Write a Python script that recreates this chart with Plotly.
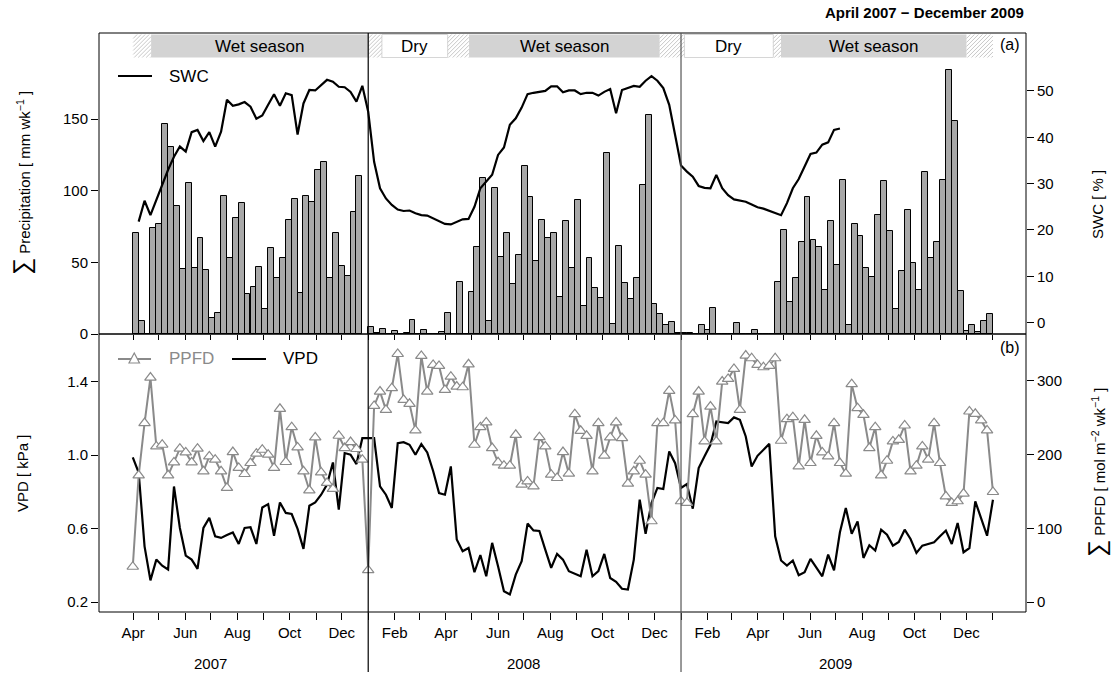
import pandas as pd
import plotly.graph_objects as go

# ---------------- data (weekly bins, 53 per calendar year) ----------------
N_BINS = 53

precip_2007_first_bin = 13
precip_2007 = [70.5, 9.1, 0, 74.0, 77.0, 146.4, 130.8, 89.4, 45.2, 105.7,
               46.1, 66.8, 44.5, 11.0, 14.7, 96.4, 52.8, 80.8, 91.3, 27.7,
               33.0, 47.0, 17.5, 60.3, 39.3, 52.8, 79.8, 94.5, 28.6, 96.2,
               92.0, 114.3, 120.1, 39.3, 70.5, 47.5, 40.3, 85.0, 110.3]
precip_2008 = [4.7, 1.0, 3.3, 0.3, 1.9, 0, 0.9, 9.8, 0, 2.8,
               0, 0, 1.2, 14.9, 0, 36.1, 0, 29.1, 61.0, 108.7,
               9.1, 101.7, 53.5, 70.3, 34.7, 54.9, 117.1, 95.4, 50.7, 79.8,
               67.0, 70.5, 26.1, 78.7, 46.1, 93.6, 19.6, 53.1, 32.1, 25.4,
               126.4, 6.8, 61.2, 35.6, 24.4, 38.9, 103.8, 153.2, 20.9, 14.0,
               6.5, 8.4, 0.7]
precip_2009 = [0.5, 0.7, 0, 6.5, 2.8, 17.9, 0, 0, 0.2, 7.4,
               0.2, 0, 2.8, 0, 0, 0, 36.3, 72.6, 22.1, 39.1,
               64.5, 95.7, 65.6, 61.0, 30.7, 78.9, 48.2, 107.5, 6.1, 76.8,
               68.7, 46.1, 39.8, 82.9, 106.9, 71.7, 17.2, 44.0, 86.6, 49.4,
               31.0, 113.1, 52.8, 64.0, 107.5, 184.6, 148.9, 29.8, 2.3, 6.1,
               1.2, 8.8, 13.7]

swc_2007_first_bin = 14
swc_2007 = [21.8, 26.3, 23.2, 26.5, 29.8, 33.0, 35.8, 38.0, 36.9, 41.1,
            41.6, 39.2, 41.1, 38.0, 41.2, 48.1, 46.8, 47.1, 47.6, 46.6,
            44.0, 44.7, 47.0, 49.3, 46.8, 49.5, 49.1, 40.6, 47.3, 50.2,
            50.1, 51.3, 52.4, 52.0, 50.9, 50.8, 49.8, 47.7, 51.1]
swc_2008 = [45.5, 34.7, 29.0, 26.8, 25.4, 24.4, 24.1, 24.2, 23.6, 23.2,
            23.1, 22.5, 21.8, 21.3, 21.2, 21.8, 22.3, 22.4, 25.0, 29.0,
            30.4, 31.9, 36.2, 37.8, 42.7, 44.1, 46.4, 49.3, 49.6, 49.8,
            50.0, 51.0, 51.0, 49.7, 50.1, 50.1, 49.3, 49.6, 49.6, 49.0,
            49.8, 50.4, 45.2, 50.2, 50.6, 51.1, 50.9, 52.2, 53.2, 52.2,
            50.6, 47.0, 40.5]
swc_2009 = [33.9, 32.6, 31.5, 29.5, 29.1, 29.0, 31.9, 29.0, 27.5, 26.6,
            26.3, 26.1, 25.5, 24.9, 24.6, 24.1, 23.6, 23.2, 25.8, 29.0,
            31.0, 33.7, 36.4, 36.7, 38.4, 38.9, 41.6, 41.9]

met_2007_first_bin = 13
vpd_2007 = [0.987, 0.905, 0.503, 0.318, 0.431, 0.398, 0.377, 0.829, 0.603, 0.453,
            0.431, 0.380, 0.603, 0.658, 0.558, 0.549, 0.565, 0.579, 0.516, 0.603,
            0.607, 0.516, 0.715, 0.733, 0.561, 0.742, 0.685, 0.679, 0.598, 0.489,
            0.724, 0.742, 0.784, 0.839, 0.960, 0.703, 1.011, 1.002, 0.951, 1.092]
vpd_2008 = [1.092, 1.092, 0.830, 0.784, 0.712, 1.065, 1.070, 1.056, 1.002, 1.060,
            1.014, 0.913, 0.793, 0.784, 0.938, 0.540, 0.476, 0.494, 0.362, 0.456,
            0.340, 0.522, 0.395, 0.259, 0.241, 0.349, 0.422, 0.627, 0.590, 0.587,
            0.485, 0.386, 0.462, 0.431, 0.368, 0.355, 0.340, 0.485, 0.340, 0.368,
            0.462, 0.331, 0.310, 0.272, 0.268, 0.431, 0.757, 0.571, 0.739, 0.821,
            0.815, 1.020, 0.956]
vpd_2009 = [0.821, 0.842, 0.708, 0.929, 0.993, 1.056, 1.183, 1.178, 1.174, 1.205,
            1.192, 1.101, 0.938, 0.996, 1.029, 1.061, 0.558, 0.426, 0.398, 0.426,
            0.346, 0.362, 0.435, 0.390, 0.340, 0.458, 0.373, 0.580, 0.712, 0.572,
            0.639, 0.440, 0.509, 0.480, 0.594, 0.567, 0.507, 0.527, 0.594, 0.543,
            0.467, 0.507, 0.515, 0.525, 0.558, 0.589, 0.516, 0.630, 0.471, 0.494,
            0.748, 0.654, 0.561, 0.757]

ppfd_2007 = [47.9, 171.9, 242.8, 304.5, 211.1, 213.4, 171.9, 189.4, 208.0, 203.0,
             189.4, 208.0, 177.3, 197.6, 193.1, 177.3, 154.8, 203.5, 181.9, 173.7,
             188.6, 201.2, 206.6, 199.9, 181.9, 262.1, 190.0, 237.3, 209.7, 177.3,
             151.6, 223.3, 175.9, 161.6, 153.4, 225.6, 208.9, 217.0, 207.6, 193.1]
ppfd_2008 = [43.3, 266.1, 285.5, 260.7, 290.1, 336.5, 274.3, 268.9, 232.8, 333.8,
             285.5, 321.6, 320.3, 287.8, 305.8, 292.3, 291.4, 322.5, 213.4, 237.3,
             243.6, 208.9, 189.5, 185.0, 185.0, 226.9, 159.2, 163.7, 157.0, 223.7,
             211.1, 172.8, 168.3, 203.4, 174.1, 254.9, 232.3, 225.5, 177.3, 242.7,
             198.5, 223.3, 243.6, 222.4, 160.6, 177.3, 191.7, 172.8, 109.6, 242.7,
             242.7, 286.4, 246.3]
ppfd_2009 = [136.7, 134.4, 254.9, 285.5, 217.9, 265.2, 217.9, 299.1, 302.7, 316.2,
             260.7, 334.3, 330.7, 321.6, 318.5, 320.3, 330.7, 218.8, 248.1, 250.8,
             184.0, 247.2, 188.6, 225.5, 203.0, 197.6, 242.7, 188.6, 174.1, 295.5,
             263.0, 254.0, 208.9, 237.3, 171.9, 191.7, 217.9, 220.1, 239.5, 177.3,
             185.0, 211.1, 193.1, 242.7, 188.6, 143.4, 134.4, 136.7, 147.1, 258.5,
             255.3, 246.3, 232.8, 149.3]

# seasons (top strip)
season_edges = ["2007-04-01", "2007-04-22", "2008-01-01", "2008-01-17", "2008-04-03",
                "2008-04-28", "2008-12-07", "2009-01-05", "2009-04-19", "2009-04-28",
                "2009-12-01", "2010-01-01"]
season_kinds = ["trans", "wet", "trans", "dry", "trans", "wet", "trans", "dry",
                "trans", "wet", "trans"]
season_text = {"wet": "Wet season", "dry": "Dry", "trans": ""}

year_labels = ["2007", "2008", "2009"]
month_abbr = {2: "Feb", 4: "Apr", 6: "Jun", 8: "Aug", 10: "Oct", 12: "Dec"}

# ---------------- helpers ----------------
def ndays(year):
    return 366 if year % 4 == 0 else 365

def bin_start(year, k):
    return pd.Timestamp(year=year, month=1, day=1) + pd.Timedelta(days=k * ndays(year) / N_BINS)

def series(first_bin_2007, v07, v08, v09):
    xs, ys = [], []
    for year, first, vals in [(2007, first_bin_2007, v07), (2008, 0, v08), (2009, 0, v09)]:
        for i, v in enumerate(vals):
            xs.append(bin_start(year, first + i))
            ys.append(v)
    return xs, ys

def fmt(ts):
    return ts.strftime("%Y-%m-%d %H:%M:%S")

# bars: centre of each weekly bin
bar_x, bar_y, bar_w = [], [], []
for year, first, vals in [(2007, precip_2007_first_bin, precip_2007), (2008, 0, precip_2008),
                          (2009, 0, precip_2009)]:
    w = ndays(year) / N_BINS
    for i, v in enumerate(vals):
        bar_x.append(fmt(bin_start(year, first + i) + pd.Timedelta(days=w / 2)))
        bar_y.append(v)
        bar_w.append(w * 86400000 * 0.999)

swc_x, swc_y = series(swc_2007_first_bin, swc_2007, swc_2008, swc_2009)
vpd_x, vpd_y = series(met_2007_first_bin, vpd_2007, vpd_2008, vpd_2009)
ppfd_x, ppfd_y = series(met_2007_first_bin, ppfd_2007, ppfd_2008, ppfd_2009)

# ---------------- geometry ----------------
W, H = 1117, 677
L, R, T, B = 99, 1026, 33, 612
X0 = pd.Timestamp("2007-02-20")
X1 = pd.Timestamp("2010-02-08 16:00")
Y_SPLIT = (B - 334) / (B - T)

def px_x(ts):
    return L + (pd.Timestamp(ts) - X0) / (X1 - X0) * (R - L)

def paper_x(px):
    return (px - L) / (R - L)

def paper_y(py):
    return (B - py) / (B - T)

FONT = "Liberation Sans, Arial, Helvetica, sans-serif"
GRAY_LINE = "#8a8a8a"

fig = go.Figure()

fig.add_trace(go.Bar(x=bar_x, y=bar_y, width=bar_w, xaxis="x2", yaxis="y",
                     marker=dict(color="#a8a8a8", line=dict(color="black", width=1)),
                     showlegend=False, hoverinfo="skip"))
fig.add_trace(go.Scatter(x=[fmt(t) for t in swc_x], y=swc_y, xaxis="x2", yaxis="y2",
                         mode="lines", line=dict(color="black", width=2.2),
                         showlegend=False))
fig.add_trace(go.Scatter(x=[fmt(t) for t in vpd_x], y=vpd_y, xaxis="x", yaxis="y3",
                         mode="lines", line=dict(color="black", width=2.2),
                         showlegend=False))
fig.add_trace(go.Scatter(x=[fmt(t) for t in ppfd_x], y=ppfd_y, xaxis="x", yaxis="y4",
                         mode="lines+markers", line=dict(color=GRAY_LINE, width=2),
                         marker=dict(symbol="triangle-up", size=10, color="white",
                                     line=dict(width=1.2, color=GRAY_LINE)),
                         showlegend=False))

# month ticks
tickvals, ticktext = [], []
for m in pd.date_range("2007-04-01", "2010-01-01", freq="MS"):
    tickvals.append(m.strftime("%Y-%m-%d"))
    ticktext.append(month_abbr.get(m.month, " ") if m.year < 2010 else " ")

tickfont = dict(family=FONT, size=15, color="black")
common_x = dict(type="date", range=[fmt(X0), fmt(X1)], showgrid=False, zeroline=False,
                showline=False, ticks="outside", tickcolor="black", tickwidth=1,
                tickvals=tickvals, domain=[0, 1])
common_y = dict(showgrid=False, zeroline=False, showline=False, ticks="outside",
                tickcolor="black", tickwidth=1, ticklen=7, tickfont=tickfont)

fig.update_layout(
    width=W, height=H, margin=dict(l=L, r=W - R, t=T, b=H - B),
    paper_bgcolor="white", plot_bgcolor="white", bargap=0, showlegend=False,
    font=dict(family=FONT, size=15, color="black"),
    xaxis=dict(**common_x, anchor="y3", ticktext=ticktext, ticklen=7, tickfont=tickfont),
    xaxis2=dict(**common_x, anchor="y", showticklabels=False, ticklen=5),
    yaxis=dict(**common_y, domain=[Y_SPLIT, 1], anchor="x2", range=[0, 210.2],
               tickvals=[0, 50, 100, 150]),
    yaxis2=dict(**common_y, overlaying="y", side="right", anchor="x2",
                range=[-2.44, 62.5], tickvals=[0, 10, 20, 30, 40, 50]),
    yaxis3=dict(**common_y, domain=[0, Y_SPLIT], anchor="x", range=[0.1457, 1.659],
                tickvals=[0.2, 0.6, 1.0, 1.4], tickformat=".1f"),
    yaxis4=dict(**common_y, overlaying="y3", side="right", anchor="x",
                range=[-13.5, 363.6], tickvals=[0, 100, 200, 300]),
)

shapes, annotations = [], []

# season strip
band_top, band_bot = 34.5, 57.5
for i, kind in enumerate(season_kinds):
    xa, xb = px_x(season_edges[i]), px_x(season_edges[i + 1])
    if kind == "wet":
        shapes.append(dict(type="rect", xref="paper", yref="paper", x0=paper_x(xa), x1=paper_x(xb),
                           y0=paper_y(band_bot), y1=paper_y(band_top),
                           fillcolor="#d3d3d3", line=dict(width=0), layer="below"))
    elif kind == "dry":
        shapes.append(dict(type="rect", xref="paper", yref="paper", x0=paper_x(xa), x1=paper_x(xb),
                           y0=paper_y(band_bot), y1=paper_y(band_top),
                           fillcolor="white", line=dict(width=1, color="#d6d6d6"), layer="below"))
    else:
        h = band_bot - band_top
        parts = []
        a = xa - h
        while a < xb:
            s, e = max(a, xa), min(a + h, xb)
            if e > s:
                parts.append("M{:.5f},{:.5f}L{:.5f},{:.5f}".format(
                    paper_x(s), paper_y(band_bot - (s - a)), paper_x(e), paper_y(band_bot - (e - a))))
            a += 4.0
        shapes.append(dict(type="path", xref="paper", yref="paper", path="".join(parts),
                           line=dict(color="#c8c8c8", width=1)))
    if season_text[kind]:
        annotations.append(dict(xref="paper", yref="paper", x=paper_x((xa + xb) / 2),
                                y=paper_y((band_top + band_bot) / 2), text=season_text[kind],
                                showarrow=False, xanchor="center", yanchor="middle",
                                font=dict(family=FONT, size=17, color="black")))

# panel frames
shapes.append(dict(type="rect", xref="paper", yref="paper", x0=0, x1=1, y0=Y_SPLIT, y1=1,
                   line=dict(color="black", width=1)))
shapes.append(dict(type="rect", xref="paper", yref="paper", x0=0, x1=1, y0=0, y1=Y_SPLIT,
                   line=dict(color="black", width=1)))

# year separators
for yr, col in [(2008, "black"), (2009, "#555555")]:
    xp = paper_x(px_x(f"{yr}-01-01"))
    shapes.append(dict(type="line", xref="paper", yref="paper", x0=xp, x1=xp,
                       y0=paper_y(672), y1=1, line=dict(color=col, width=1.2)))

# year labels
for yl in year_labels:
    annotations.append(dict(xref="paper", yref="paper", x=paper_x(px_x(f"{yl}-07-01")),
                            y=paper_y(663), text=yl, showarrow=False,
                            xanchor="center", yanchor="middle",
                            font=dict(family=FONT, size=15, color="black")))

# legends
shapes.append(dict(type="line", xref="paper", yref="paper", x0=paper_x(118), x1=paper_x(152),
                   y0=paper_y(76), y1=paper_y(76), line=dict(color="black", width=2.2)))
annotations.append(dict(xref="paper", yref="paper", x=paper_x(167), y=paper_y(76), text="SWC",
                        showarrow=False, xanchor="left", yanchor="middle",
                        font=dict(family=FONT, size=17, color="black")))
shapes.append(dict(type="line", xref="paper", yref="paper", x0=paper_x(118), x1=paper_x(151),
                   y0=paper_y(359), y1=paper_y(359), line=dict(color=GRAY_LINE, width=2)))
shapes.append(dict(type="path", xref="paper", yref="paper",
                   path="M{:.5f},{:.5f}L{:.5f},{:.5f}L{:.5f},{:.5f}Z".format(
                       paper_x(129), paper_y(363), paper_x(139.5), paper_y(363),
                       paper_x(134.25), paper_y(353)),
                   fillcolor="white", line=dict(color=GRAY_LINE, width=1.2)))
annotations.append(dict(xref="paper", yref="paper", x=paper_x(167), y=paper_y(359), text="PPFD",
                        showarrow=False, xanchor="left", yanchor="middle",
                        font=dict(family=FONT, size=17, color=GRAY_LINE)))
shapes.append(dict(type="line", xref="paper", yref="paper", x0=paper_x(232), x1=paper_x(266),
                   y0=paper_y(359), y1=paper_y(359), line=dict(color="black", width=2.2)))
annotations.append(dict(xref="paper", yref="paper", x=paper_x(281), y=paper_y(359), text="VPD",
                        showarrow=False, xanchor="left", yanchor="middle",
                        font=dict(family=FONT, size=17, color="black")))

# panel labels
for lab, py in [("(a)", 45), ("(b)", 347)]:
    annotations.append(dict(xref="paper", yref="paper", x=paper_x(1022), y=paper_y(py), text=lab,
                            showarrow=False, xanchor="right", yanchor="middle",
                            font=dict(family=FONT, size=16, color="black")))

# title
annotations.append(dict(xref="paper", yref="paper", x=1, y=paper_y(13),
                        text="<b>April 2007 \u2212 December 2009</b>", showarrow=False,
                        xanchor="right", yanchor="middle",
                        font=dict(family=FONT, size=15, color="black")))

# axis titles
SIG = "<span style='font-size:24px'>\u2211</span> "
for txt, px, py in [
    (SIG + "Precipitation [ mm wk<sup>\u22121</sup> ]", 22, 183),
    ("VPD [ kPa ]", 22, 473),
    ("SWC [ % ]", 1097, 205),
    (SIG + "PPFD [ mol m<sup>\u22122</sup> wk<sup>\u22121</sup> ]", 1097, 473),
]:
    annotations.append(dict(xref="paper", yref="paper", x=paper_x(px), y=paper_y(py), text=txt,
                            showarrow=False, textangle=-90, xanchor="center", yanchor="middle",
                            font=dict(family=FONT, size=15, color="black")))

fig.update_layout(shapes=shapes, annotations=annotations)
fig.write_html("out.html", config={"displayModeBar": False},
               post_script="document.body.style.margin='0';document.body.style.overflow='hidden';")
